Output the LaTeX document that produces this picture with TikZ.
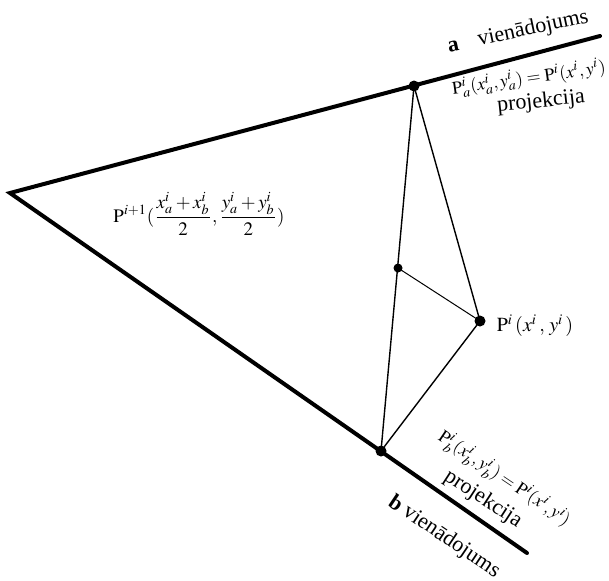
\documentclass[tikz,border=0pt]{standalone}
\usepackage{mathptmx}
\usepackage[no-math]{fontspec}
\setmainfont{Liberation Serif}
\begin{document}
\begin{tikzpicture}[x=0.5pt,y=-0.5pt,
  thickline/.style={line width=2pt,line cap=round},
  thinline/.style={line width=0.7pt},
  hairline/.style={line width=0.5pt},
  bigdot/.style={circle,fill=black,inner sep=0pt,minimum size=5.5pt},
  smalldot/.style={circle,fill=black,inner sep=0pt,minimum size=4.5pt},
  lbl/.style={inner sep=0pt,font=\fontsize{11}{13}\selectfont},
  flbl/.style={inner sep=0pt,font=\fontsize{9}{11}\selectfont}]
\useasboundingbox (0,0) rectangle (609,580);
\coordinate (O) at (10,193);
\coordinate (Aend) at (600,36);
\coordinate (Bend) at (527,553);
\node[bigdot] (Pa) at (414,86) {};
\node[bigdot] (Pb) at (381,451) {};
\node[smalldot] (M) at (398,268) {};
\node[bigdot] (P) at (480,321) {};
\draw[thickline] (Aend) -- (O) -- (Bend);
\draw[thinline] (Pa.center) -- (Pb.center);
\draw[thinline] (Pa.center) -- (P.center) -- (Pb.center);
\draw[hairline] (M.center) -- (P.center);
\node[lbl,rotate=12] (ta) at (518,32) {\textbf{a}\hspace{0.9em}vienādojums};
\node[flbl,rotate=8] (fa) at (529,78) {$\mathrm{P}^i_a(x^i_a,y^i_a)=\mathrm{P}^i(x^i,y^i)$};
\node[lbl,rotate=6] (pa) at (541,102) {projekcija};
\node[lbl,font=\fontsize{9.5}{11}\selectfont] (fm) at (199,214) {$\displaystyle\mathrm{P}^{i+1}(\frac{x^i_a+x^i_b}{2},\frac{y^i_a+y^i_b}{2})$};
\node[lbl,font=\fontsize{10}{12}\selectfont] (fp) at (535,326) {$\mathrm{P}^i\,(x^i\,,\,y^i\,)$};
\node[flbl,rotate=-34] (fb) at (504,479) {$\mathrm{P}^i_b(x^i_b,y^i_b)=\mathrm{P}^i(x^i,y^i)$};
\node[lbl,rotate=-33] (pb) at (483,499) {projekcija};
\node[lbl,rotate=-34] (tb) at (444,537) {\textbf{b} vienādojums};
\end{tikzpicture}
\end{document}
